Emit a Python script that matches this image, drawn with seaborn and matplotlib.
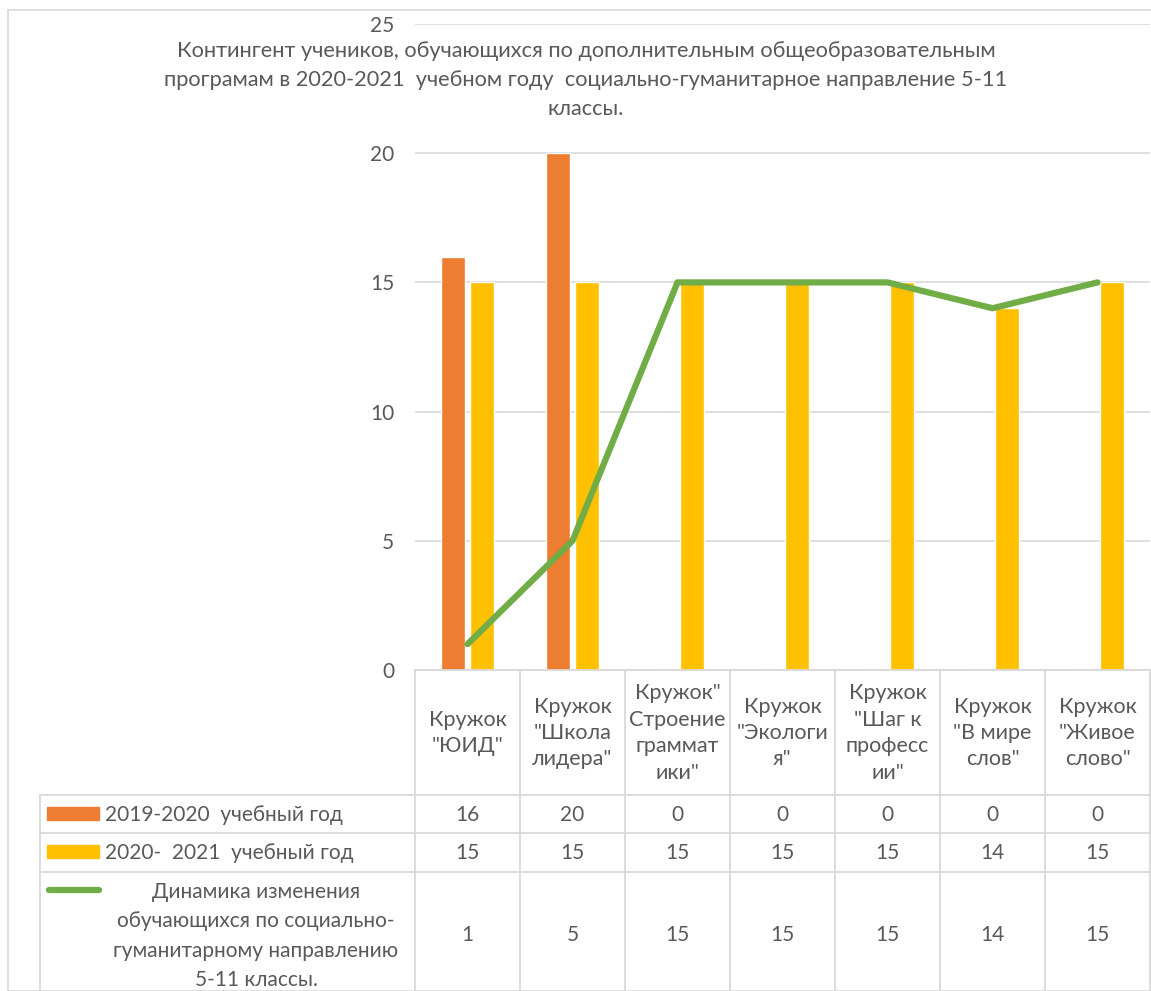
import matplotlib
matplotlib.use('Agg')

import matplotlib.pyplot as plt
import matplotlib.transforms as mtransforms
from matplotlib.lines import Line2D
from matplotlib.patches import Rectangle
import seaborn as sns
import pandas as pd

# данные
categories = ['Кружок\n"ЮИД"', 'Кружок\n"Школа\nлидера"', 'Кружок"\nСтроение\nграммат\nики"',
              'Кружок\n"Экологи\nя"', 'Кружок\n"Шаг к\nпрофесс\nии"', 'Кружок\n"В мире\nслов"',
              'Кружок\n"Живое\nслово"']
series_names = ['2019-2020  учебный год', '2020-  2021  учебный год']
values_2019 = [16, 20, 0, 0, 0, 0, 0]
values_2020 = [15, 15, 15, 15, 15, 14, 15]
dynamics_name = 'Динамика изменения\nобучающихся по социально-\nгуманитарному направлению\n5-11 классы.'
dynamics = [1, 5, 15, 15, 15, 14, 15]
y_ticks = [0, 5, 10, 15, 20, 25]
title = ('Контингент учеников, обучающихся по дополнительным общеобразовательным\n'
         'програмам в 2020-2021  учебном году  социально-гуманитарное направление 5-11\n'
         'классы.')

orange = '#ED7D31'
yellow = '#FFC000'
green = '#70AD47'
text_color = '#595959'
grid_color = '#D9D9D9'

sns.set_style('white')
plt.rcParams['font.family'] = ['Lato', 'DejaVu Sans']

W, H = 1151, 991
fig = plt.figure(figsize=(W / 100, H / 100), dpi=100)

# рамка диаграммы
fig.patches.append(Rectangle((8 / W, 0), 1.2, 1 - 10 / H, transform=fig.transFigure,
                             fill=False, edgecolor=grid_color, linewidth=1.2))

x0, x1 = 415, 1150
y_top, y_zero = 24, 670
ax = fig.add_axes([x0 / W, 1 - y_zero / H, (x1 - x0) / W, (y_zero - y_top) / H])

df = pd.DataFrame({
    'cat': categories * 2,
    'series': [series_names[0]] * 7 + [series_names[1]] * 7,
    'value': values_2019 + values_2020,
})
sns.barplot(data=df, x='cat', y='value', hue='series', palette=[orange, yellow],
            saturation=1, width=0.56, gap=0.2, ax=ax, legend=False, zorder=2)
sns.lineplot(x=list(range(len(categories))), y=dynamics, color=green, linewidth=4.5,
             ax=ax, zorder=3, solid_capstyle='round', solid_joinstyle='round')

ax.set_xlim(-0.5, len(categories) - 0.5)
ax.set_ylim(0, 25)
ax.set_yticks(y_ticks)
ax.set_yticklabels([str(t) for t in y_ticks], color=text_color, fontsize=15)
ax.tick_params(axis='y', length=0, pad=15)
ax.set_xticks([])
ax.set_xlabel('')
ax.set_ylabel('')
for s in ax.spines.values():
    s.set_visible(False)
ax.yaxis.grid(True, color=grid_color, linewidth=1.2, zorder=0)
ax.set_axisbelow(True)

# заголовок
fig.text(586 / W, 1 - 80 / H, title, ha='center', va='center', fontsize=15.7,
         color=text_color, linespacing=1.55)

# таблица данных
axh = y_zero - y_top
def ya(py):
    return (y_zero - py) / axh

blend = mtransforms.blended_transform_factory(ax.transData, ax.transAxes)
row_lines = [670, 795, 833, 872]
left_x = -0.5 - (415 - 40) / 105
for i, py in enumerate(row_lines):
    xs = -0.5 if i == 0 else left_x
    ax.add_line(Line2D([xs, 6.5], [ya(py), ya(py)], transform=blend, color=grid_color,
                       linewidth=1.3, clip_on=False))
for k in range(len(categories) + 1):
    ax.add_line(Line2D([k - 0.5, k - 0.5], [ya(670), ya(995)], transform=blend,
                       color=grid_color, linewidth=1.3, clip_on=False))
ax.add_line(Line2D([left_x, left_x], [ya(795), ya(995)], transform=blend,
                   color=grid_color, linewidth=1.3, clip_on=False))

fs = 15
for i, cat in enumerate(categories):
    ax.text(i, ya(733), cat, transform=blend, ha='center', va='center', fontsize=15.5,
            color=text_color, linespacing=1.4, clip_on=False)
    ax.text(i, ya(815), str(values_2019[i]), transform=blend, ha='center', va='center',
            fontsize=fs, color=text_color)
    ax.text(i, ya(853), str(values_2020[i]), transform=blend, ha='center', va='center',
            fontsize=fs, color=text_color)
    ax.text(i, ya(935), str(dynamics[i]), transform=blend, ha='center', va='center',
            fontsize=fs, color=text_color)

# легенда в таблице
fig.patches.append(Rectangle((47 / W, 1 - 820 / H), 52 / W, 13 / H, transform=fig.transFigure,
                             color=orange))
fig.patches.append(Rectangle((47 / W, 1 - 858 / H), 52 / W, 13 / H, transform=fig.transFigure,
                             color=yellow))
fig.lines.append(Line2D([49 / W, 99 / W], [1 - 890 / H, 1 - 890 / H], transform=fig.transFigure,
                        color=green, linewidth=4.5, solid_capstyle='round'))
fig.text(105 / W, 1 - 815 / H, series_names[0], ha='left', va='center', fontsize=fs,
         color=text_color)
fig.text(105 / W, 1 - 853 / H, series_names[1], ha='left', va='center', fontsize=fs,
         color=text_color)
fig.text(256 / W, 1 - 936 / H, dynamics_name, ha='center', va='center', fontsize=fs,
         color=text_color, linespacing=1.6)

fig.savefig('out.png', dpi=100)
